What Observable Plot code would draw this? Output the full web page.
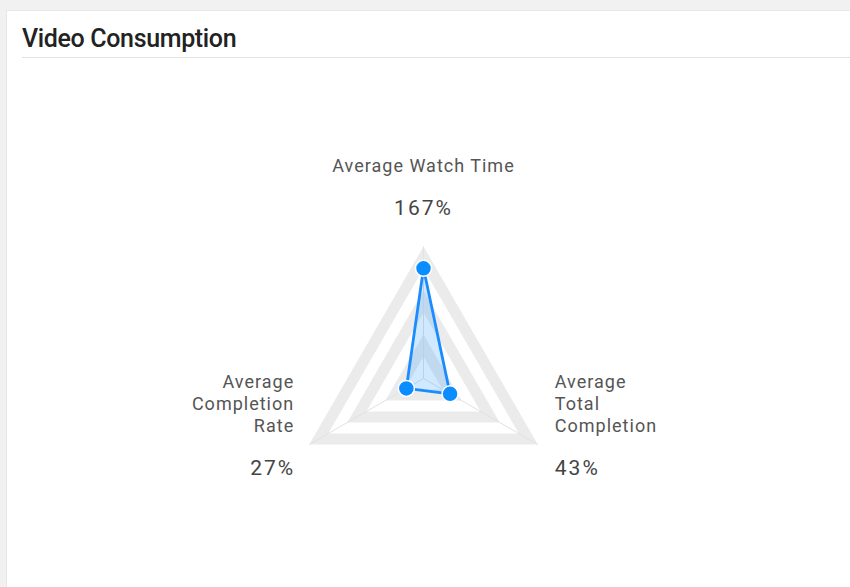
<!DOCTYPE html>
<html><head><meta charset="utf-8">
<script src="https://cdn.jsdelivr.net/npm/d3@7"></script>
<script src="https://cdn.jsdelivr.net/npm/@observablehq/plot@0.6"></script>
<style>
html,body{margin:0;padding:0;width:850px;height:587px;overflow:hidden;background:#f1f1f1;font-family:Roboto,"Noto Sans",sans-serif;}
#card{position:absolute;left:6px;top:10px;right:0;bottom:0;background:#fff;border-left:1px solid #e6e6e6;border-top:1px solid #e9e9e9;}
#title{position:absolute;left:22px;top:25px;font-size:25px;line-height:28px;font-weight:500;letter-spacing:-0.35px;color:#222;white-space:nowrap;}
#rule{position:absolute;left:22px;right:0;top:57px;height:0;border-top:1.5px solid #e2e2e2;}
#chart{position:absolute;left:0;top:60px;}
#chart g[font-size="18"]{letter-spacing:1px;}
#chart g[font-size="21"]{letter-spacing:2px;}
</style></head>
<body>
<div id="card"></div>
<div id="title">Video Consumption</div>
<div id="rule"></div>
<div id="chart"></div>
<script>
// ---- data ----
const indicators = ["Average Watch Time", "Average Completion Rate", "Average Total Completion"];
const indicatorLabels = ["Average Watch Time", "Average\nCompletion\nRate", "Average\nTotal\nCompletion"];
const values = [167, 27, 43];
const valueLabels = ["167%", "27%", "43%"];
const indicatorMax = [200, 180, 185];
const splitNumber = 6;

// ---- geometry helpers ----
const W = 850, H = 527, cx = 423, cy = 318, R = 132;
const angles = indicators.map((d, i) => (90 + i * 120) * Math.PI / 180);
const pt = (i, r) => ({x: r * Math.cos(angles[i]), y: r * Math.sin(angles[i])});

const bands = [];
for (let k = splitNumber; k >= 1; k--) {
  const r = k / splitNumber;
  const ring = [0, 1, 2, 0].map(i => ({...pt(i, r), level: k}));
  bands.push({level: k, ring});
}
const axisLines = indicators.map((name, i) => ({name, x1: 0, y1: 0, x2: pt(i, 1).x, y2: pt(i, 1).y}));
const series = values.map((v, i) => ({name: indicators[i], value: v, ...pt(i, v / indicatorMax[i])}));
const seriesClosed = [...series, series[0]];
const labelRows = indicators.map((name, i) => ({name, label: indicatorLabels[i], value: valueLabels[i], ...pt(i, 1)}));

const marks = [];
for (const b of bands) {
  marks.push(Plot.line(b.ring, {x: "x", y: "y", fill: b.level % 2 === 0 ? "#ebebeb" : "#ffffff", stroke: "none"}));
}
marks.push(Plot.link(axisLines, {x1: "x1", y1: "y1", x2: "x2", y2: "y2", stroke: "#e2e2e2", strokeWidth: 1}));
marks.push(Plot.line(seriesClosed, {x: "x", y: "y", fill: "#1a90ff", fillOpacity: 0.2, stroke: "#1a8cff", strokeWidth: 2.8, strokeLinejoin: "round"}));
marks.push(Plot.dot(series, {x: "x", y: "y", r: 8, fill: "#0a8dff", stroke: "#fff", strokeWidth: 1.5}));

const topRows = labelRows.filter((d, i) => i === 0);
const leftRows = labelRows.filter((d, i) => i === 1);
const rightRows = labelRows.filter((d, i) => i === 2);
const lab = {fontSize: 18, fill: "#555", fontFamily: "Roboto", lineHeight: 1.222};
const val = {fontSize: 21, fill: "#444", fontFamily: "Roboto"};
marks.push(Plot.text(topRows, {x: "x", y: "y", text: "label", textAnchor: "middle", dy: -82, ...lab}));
marks.push(Plot.text(topRows, {x: "x", y: "y", text: "value", textAnchor: "middle", dy: -38, ...val}));
marks.push(Plot.text(leftRows, {x: "x", y: "y", text: "label", textAnchor: "end", dx: -15, dy: -42, ...lab}));
marks.push(Plot.text(leftRows, {x: "x", y: "y", text: "value", textAnchor: "end", dx: -14, dy: 24, ...val}));
marks.push(Plot.text(rightRows, {x: "x", y: "y", text: "label", textAnchor: "start", dx: 17, dy: -42, ...lab}));
marks.push(Plot.text(rightRows, {x: "x", y: "y", text: "value", textAnchor: "start", dx: 17, dy: 24, ...val}));

const chart = Plot.plot({
  width: W, height: H,
  margin: 0,
  x: {domain: [-1, 1], range: [cx - R, cx + R], axis: null},
  y: {domain: [-1, 1], range: [cy + R, cy - R], axis: null},
  style: {background: "transparent", fontFamily: "Roboto"},
  marks
});
document.getElementById("chart").appendChild(chart);
</script>
</body></html>
